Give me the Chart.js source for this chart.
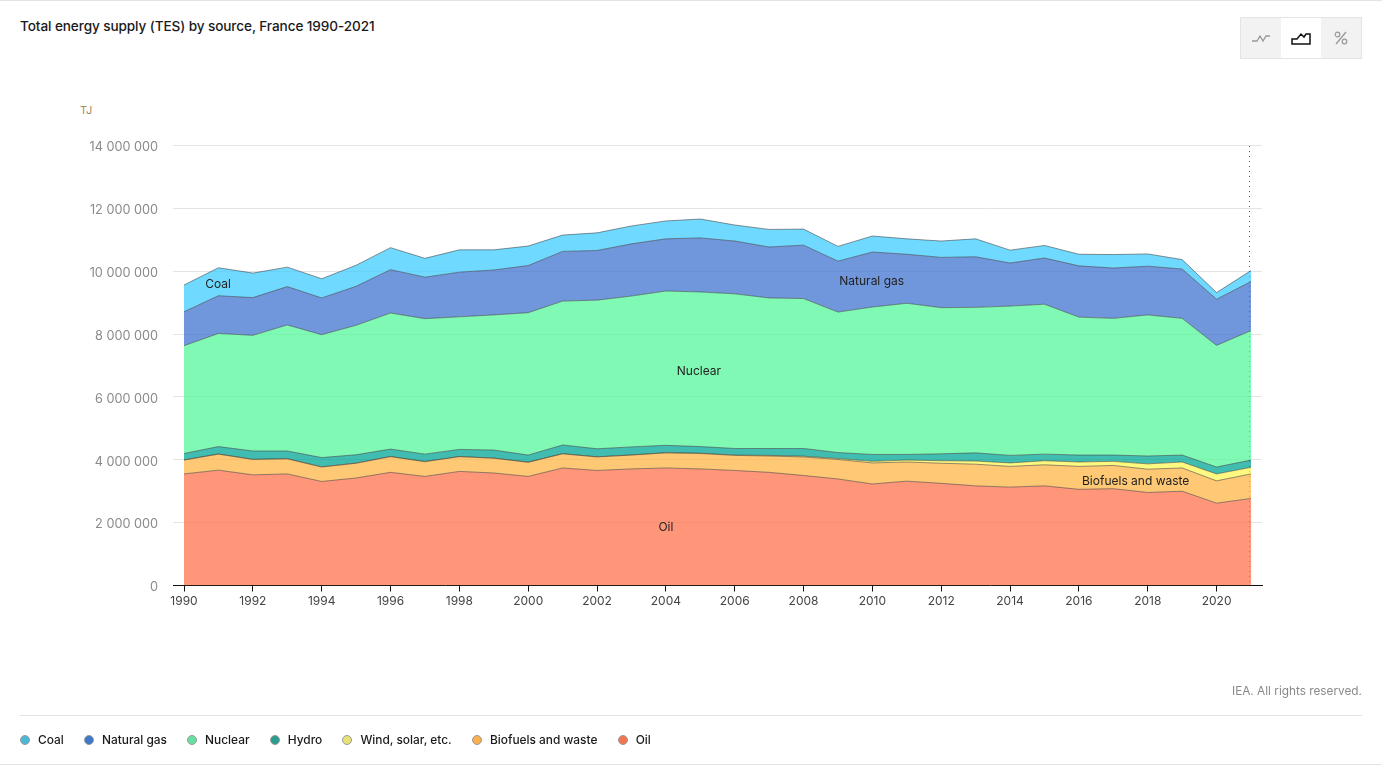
<!DOCTYPE html>
<html>
<head>
<meta charset="utf-8">
<title>Total energy supply (TES) by source, France 1990-2021</title>
<script src="https://cdn.jsdelivr.net/npm/chart.js@4"></script>
<style>
  html, body { margin: 0; padding: 0; background: #fff; }
  body { width: 1382px; height: 765px; position: relative; overflow: hidden; font-family: Inter, "Noto Sans", sans-serif; color: #1a1a1a; }
  #chart { position: absolute; left: 0; top: 0; }
  .rule { position: absolute; height: 1px; background: #e4e4e4; }
  h1 { position: absolute; left: 20px; top: 18px; margin: 0; font-size: 13.6px; line-height: 17px; font-weight: 500; letter-spacing: -0.1px; }
  .unit { position: absolute; left: 80px; top: 104px; font-size: 11px; line-height: 13px; color: #a58a66; }
  .source { position: absolute; right: 20px; top: 684px; font-size: 11.8px; line-height: 15px; color: #8a8a8a; }
  .switch { position: absolute; left: 1240px; top: 17px; width: 120px; height: 40px; display: flex; border: 1px solid #e4e4e4; background: #f2f2f2; }
  .switch div { width: 40px; height: 40px; display: flex; align-items: center; justify-content: center; }
  .switch .on { background: #fff; }
  #legend { position: absolute; left: 20px; top: 732px; display: flex; font-size: 11.9px; line-height: 16px; font-weight: 500; }
  #legend span.item { display: flex; align-items: center; margin-right: 20.2px; }
  #legend i { width: 8px; height: 8px; border-radius: 50%; border: 1px solid #9a9a9a; margin-right: 8px; }
</style>
</head>
<body>
<div class="rule" style="left:0;right:0;top:0"></div>
<h1>Total energy supply (TES) by source, France 1990-2021</h1>
<div class="switch">
  <div><svg width="20" height="12" viewBox="0 0 20 12"><path d="M1 9h5l3-5 3 5 3-5h4" fill="none" stroke="#999" stroke-width="1.3"/></svg></div>
  <div class="on"><svg width="20" height="14" viewBox="0 0 20 14"><path d="M1 13V8h5l4-5 3 3 2-3h4v10z" fill="none" stroke="#111" stroke-width="1.5"/></svg></div>
  <div><svg width="14" height="14" viewBox="0 0 14 14"><path d="M12 1 2 13" stroke="#999" stroke-width="1.3"/><circle cx="3.5" cy="3.5" r="2.3" fill="none" stroke="#999" stroke-width="1.2"/><circle cx="10.5" cy="10.5" r="2.3" fill="none" stroke="#999" stroke-width="1.2"/></svg></div>
</div>
<div class="unit">TJ</div>
<canvas id="chart" width="1382" height="765"></canvas>
<div class="source">IEA. All rights reserved.</div>
<div class="rule" style="left:20px;right:20px;top:715px"></div>
<div id="legend"></div>
<div class="rule" style="left:0;right:0;top:764px"></div>
<script>
const years = [1990,1991,1992,1993,1994,1995,1996,1997,1998,1999,2000,2001,2002,2003,2004,2005,2006,2007,2008,2009,2010,2011,2012,2013,2014,2015,2016,2017,2018,2019,2020,2021];
const xTicks = [1990,1992,1994,1996,1998,2000,2002,2004,2006,2008,2010,2012,2014,2016,2018,2020];

// values in million TJ
const oil = [3.55,3.67,3.52,3.55,3.31,3.42,3.60,3.47,3.63,3.58,3.47,3.74,3.66,3.71,3.74,3.71,3.66,3.60,3.50,3.39,3.23,3.32,3.25,3.17,3.13,3.17,3.06,3.08,2.96,3.00,2.62,2.77];
const biofuels = [.44,.51,.49,.48,.46,.47,.50,.47,.47,.47,.45,.45,.43,.44,.48,.49,.48,.52,.59,.62,.67,.61,.64,.69,.66,.67,.73,.74,.74,.74,.71,.78];
const wind = [.005,.005,.005,.005,.005,.005,.005,.005,.005,.005,.005,.005,.005,.005,.005,.01,.01,.02,.025,.03,.05,.06,.08,.10,.11,.13,.14,.13,.17,.19,.22,.21];
const hydro = [.205,.235,.265,.245,.295,.265,.235,.235,.225,.255,.225,.275,.255,.255,.235,.21,.21,.22,.245,.19,.22,.18,.22,.26,.24,.21,.22,.20,.25,.22,.22,.23];
const nuclear = [3.43,3.60,3.68,4.01,3.91,4.12,4.33,4.31,4.22,4.30,4.53,4.58,4.73,4.80,4.91,4.92,4.92,4.79,4.77,4.47,4.69,4.81,4.65,4.63,4.75,4.77,4.39,4.35,4.49,4.35,3.87,4.12];
const gas = [1.08,1.20,1.20,1.22,1.17,1.24,1.38,1.32,1.42,1.43,1.50,1.58,1.58,1.66,1.66,1.72,1.68,1.62,1.70,1.62,1.75,1.56,1.60,1.61,1.37,1.47,1.63,1.60,1.55,1.57,1.47,1.56];
const coal = [.85,.89,.78,.62,.61,.67,.70,.60,.71,.64,.62,.52,.56,.57,.57,.60,.51,.56,.51,.47,.51,.49,.52,.57,.41,.40,.37,.43,.39,.30,.21,.35];

const seriesNames = ['Oil', 'Biofuels and waste', 'Wind, solar, etc.', 'Hydro', 'Nuclear', 'Natural gas', 'Coal'];
const seriesValues = [oil, biofuels, wind, hydro, nuclear, gas, coal];
const fillColors = ['rgba(255,115,76,.75)', 'rgba(254,182,71,.75)', 'rgba(252,247,85,.75)', 'rgba(0,167,150,.75)', 'rgba(85,247,155,.75)', 'rgba(64,115,207,.75)', 'rgba(64,204,255,.75)'];
const legendColors = ['#f4764f', '#fab04f', '#e6e27a', '#2a9d8f', '#66e0a0', '#3b78c8', '#4cb8d8'];

// area labels: name, year, value
const areaLabels = [
  ['Coal', 1990.99, 9.57],
  ['Natural gas', 2009.98, 9.67],
  ['Nuclear', 2004.96, 6.81],
  ['Biofuels and waste', 2017.65, 3.30],
  ['Oil', 2004, 1.84]
];

// legend reads top of the stack first
const legendBox = document.getElementById('legend');
seriesNames.slice().reverse().forEach((name, i) => {
  const item = document.createElement('span');
  item.className = 'item';
  const dot = document.createElement('i');
  dot.style.background = legendColors[seriesNames.length - 1 - i];
  item.appendChild(dot);
  item.appendChild(document.createTextNode(name));
  legendBox.appendChild(item);
});

const overlay = {
  id: 'overlay',
  beforeDatasetsDraw(chart) {
    // dotted marker on the last year, sits under the areas
    const { ctx, scales: { x, y } } = chart;
    const lastX = Math.floor(x.getPixelForValue(2021)) - 0.5;
    ctx.save();
    ctx.strokeStyle = '#555';
    ctx.lineWidth = 1;
    ctx.setLineDash([1, 4]);
    ctx.beginPath();
    ctx.moveTo(lastX, Math.round(y.top));
    ctx.lineTo(lastX, Math.round(y.bottom));
    ctx.stroke();
    ctx.restore();
  },
  afterDatasetsDraw(chart) {
    const { ctx, scales: { x, y } } = chart;
    ctx.save();
    ctx.font = '12px Inter, "Noto Sans", sans-serif';
    ctx.fillStyle = '#222';
    ctx.textAlign = 'center';
    ctx.textBaseline = 'middle';
    areaLabels.forEach(([text, year, value]) => {
      ctx.fillText(text, x.getPixelForValue(year), y.getPixelForValue(value));
    });
    ctx.restore();
  }
};

new Chart(document.getElementById('chart'), {
  type: 'line',
  data: {
    labels: years,
    datasets: seriesNames.map((name, i) => ({
      label: name,
      data: years.map((yr, j) => ({ x: yr, y: seriesValues[i][j] })),
      fill: i === 0 ? 'origin' : '-1',
      backgroundColor: fillColors[i],
      borderColor: 'rgba(60,60,60,.55)',
      borderWidth: 1,
      pointRadius: 0,
      tension: 0
    }))
  },
  options: {
    responsive: false,
    animation: false,
    layout: { padding: { top: 145.5, right: 120, bottom: 0, left: 0 } },
    plugins: { legend: { display: false }, tooltip: { enabled: false } },
    scales: {
      x: {
        type: 'linear',
        min: 1989.68,
        max: 2021.32,
        afterBuildTicks(axis) { axis.ticks = xTicks.map(v => ({ value: v })); },
        afterFit(axis) { axis.height = 179.5; },
        border: { color: '#111', width: 1 },
        grid: { drawOnChartArea: false, color: '#111', tickLength: 6 },
        ticks: {
          autoSkip: false,
          maxRotation: 0,
          padding: 3,
          color: '#444',
          font: { family: 'Inter', size: 12 },
          callback: v => String(v)
        }
      },
      y: {
        stacked: true,
        min: 0,
        max: 14,
        afterFit(axis) { axis.width = 173; },
        border: { display: false },
        grid: { color: '#e4e4e4', tickLength: 0 },
        ticks: {
          stepSize: 2,
          padding: 15,
          color: '#8a8a8a',
          // empty first line plus small line height nudges the label down 2px
          font: { family: 'Inter', size: 12.7, lineHeight: '4px' },
          callback: v => ['', v === 0 ? '0' : v + ' 000 000']
        }
      }
    }
  },
  plugins: [overlay]
});
</script>
</body>
</html>
